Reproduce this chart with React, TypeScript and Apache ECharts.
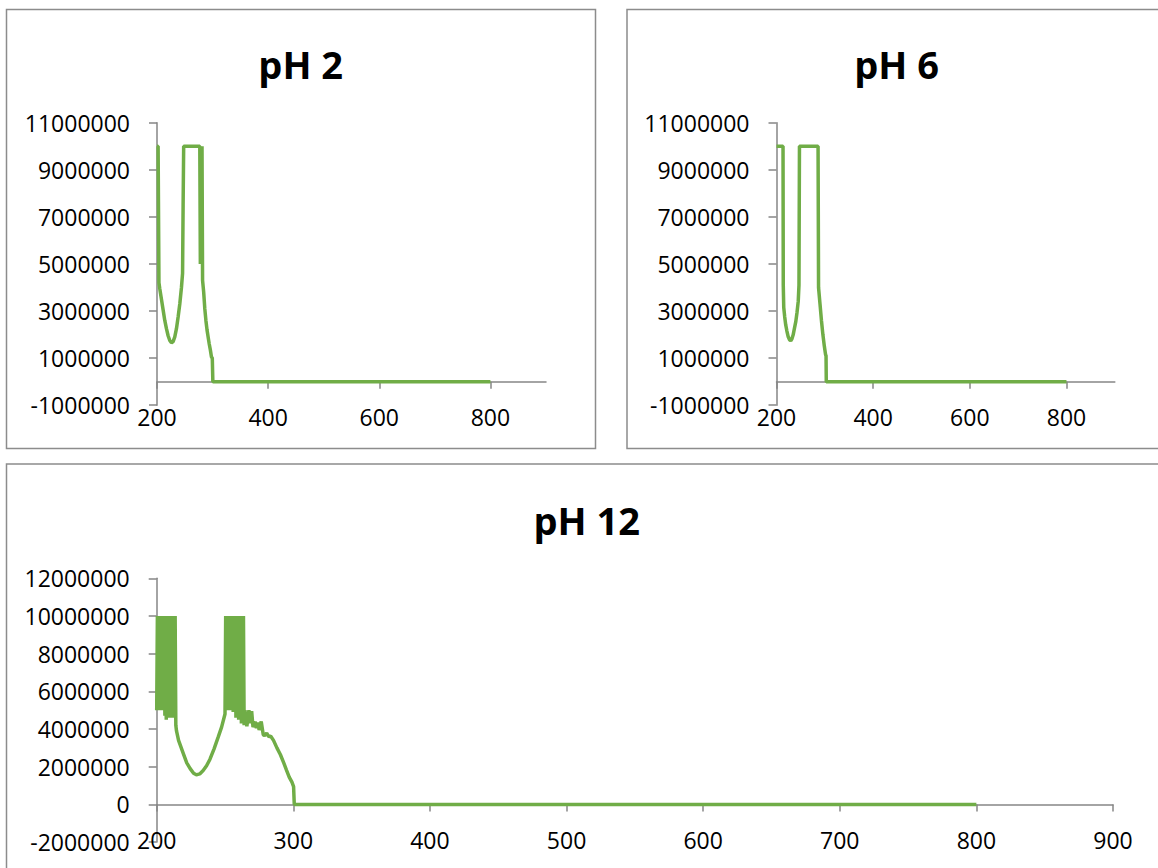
import React, { useEffect, useRef } from "react";
import * as echarts from "echarts";

// ---------- data (wavelength nm, intensity) ----------
const titles = ["pH 2", "pH 6", "pH 12"];

const ph2Points: [number, number][] = [
  [200, 10000000], [202, 10000000], [203.5, 4200000], [205, 3950000], [208, 3500000],
  [211, 3050000], [214, 2600000], [217, 2250000], [220, 1950000], [223, 1750000],
  [226, 1650000], [229, 1700000], [232, 1900000], [235, 2250000], [238, 2750000],
  [241, 3300000], [244, 4000000], [246, 4600000], [247, 7500000], [248, 10000000],
  [277, 10000000], [278, 5000000], [279, 10000000], [280, 5200000], [281, 10000000],
  [282, 4300000], [284, 3800000], [286, 3100000], [288, 2600000], [290, 2200000],
  [292, 1900000], [294, 1600000], [296, 1350000], [298, 1050000], [299.5, 1000000],
  [300.5, 0], [800, 0],
];

const ph6Points: [number, number][] = [
  [200, 10000000], [213.5, 10000000], [214, 4100000], [215, 3150000], [217, 2750000],
  [219, 2420000], [221.5, 2150000], [224, 1920000], [227, 1780000], [229.5, 1740000],
  [232, 1820000], [234.5, 1990000], [237, 2250000], [240, 2560000], [242.5, 2950000],
  [245, 3420000], [246.5, 4100000], [247.5, 10000000], [286, 10000000], [287, 4000000],
  [290, 3300000], [293, 2600000], [296, 2000000], [299, 1500000], [301.5, 1150000],
  [302.5, 1100000], [303, 0], [800, 0],
];

const ph12Points: [number, number][] = [
  [200, 5000000], [200.5, 10000000], [201, 5000000], [201.5, 10000000], [202, 5000000],
  [202.5, 10000000], [203, 5000000], [203.5, 10000000], [204, 5000000], [204.5, 10000000],
  [205, 5000000], [205.5, 10000000], [206, 4700000], [206.5, 10000000], [207, 4500000],
  [207.5, 10000000], [208, 4700000], [208.5, 10000000], [209, 4600000], [209.5, 10000000],
  [210, 4800000], [210.5, 10000000], [211, 4600000], [211.5, 10000000], [212, 4700000],
  [212.5, 10000000], [213, 4600000], [213.5, 10000000], [214, 4200000], [214.5, 3900000],
  [216, 3400000], [219.5, 2700000], [222, 2200000], [224.5, 1900000], [227, 1650000],
  [229, 1570000], [231.5, 1620000], [234, 1800000], [236.5, 2050000], [239, 2400000],
  [242, 2950000], [245, 3570000], [247.5, 4100000], [250, 4800000], [250.5, 10000000],
  [251, 5000000], [251.5, 10000000], [252, 5200000], [252.5, 10000000], [253, 5000000],
  [253.5, 10000000], [254, 5100000], [254.5, 10000000], [255, 5000000], [255.5, 10000000],
  [256, 4900000], [256.5, 10000000], [257, 5000000], [257.5, 10000000], [258, 4600000],
  [258.5, 10000000], [259, 4800000], [259.5, 9000000], [260, 4500000], [260.5, 10000000],
  [261, 4900000], [261.5, 10000000], [262, 4300000], [262.5, 10000000], [263, 4600000],
  [263.5, 10000000], [264, 4200000], [264.6, 5000000], [266, 4150000], [267.5, 5000000],
  [268.5, 4300000], [269.5, 4950000], [270.5, 4100000], [272, 4400000], [273, 4050000],
  [274, 4350000], [275, 3950000], [276.5, 4400000], [278, 3700000], [279, 3650000],
  [280.5, 3780000], [282, 3600000], [283.5, 3620000], [285.5, 3400000], [288, 3000000],
  [290.5, 2650000], [293, 2200000], [295, 1820000], [297, 1450000], [299, 1180000],
  [300.2, 950000], [300.7, 0], [800, 0],
];

const xTicksSmall = [200, 400, 600, 800];

// ---------- styles ----------
const GREEN = "#70ad47";
const AXIS = "#868686";
const FONT = "'Open Sans', 'Liberation Sans', sans-serif";

export default function App() {
  const ref = useRef<HTMLDivElement>(null);

  useEffect(() => {
    if (!ref.current) return;
    const chart = echarts.init(ref.current, undefined, { renderer: "svg" });

    const axisLine = { show: true, onZero: true, lineStyle: { color: AXIS, width: 1.5 } };
    const axisTick = { show: true, length: 7, lineStyle: { color: AXIS, width: 1.5 } };
    const labelStyle = { fontSize: 23, color: "#000", fontFamily: FONT };
    const fmt = (v: number) => String(v);

    const grids = [
      { left: 157, top: 122.7, width: 389, height: 282.5, outerBoundsMode: "none" },
      { left: 776.5, top: 122.7, width: 338.3, height: 282.5, outerBoundsMode: "none" },
      { left: 156.7, top: 578.3, width: 956.3, height: 263.8, outerBoundsMode: "none" },
    ];

    const xMargins = [0, 0, -14];

    const xAxes = [0, 1, 2].map((i) => ({
      type: "value",
      gridIndex: i,
      min: 200,
      max: 900,
      interval: i === 2 ? 100 : 200,
      axisLine,
      axisTick: i === 2 ? axisTick : { ...axisTick, customValues: xTicksSmall },
      axisLabel:
        i === 2
          ? { ...labelStyle, margin: xMargins[i], formatter: fmt }
          : { ...labelStyle, margin: xMargins[i], formatter: fmt, customValues: xTicksSmall },
      splitLine: { show: false },
    }));

    const yAxes = [0, 1, 2].map((i) => ({
      type: "value",
      gridIndex: i,
      min: i === 2 ? -2000000 : -1000000,
      max: i === 2 ? 12000000 : 11000000,
      interval: 2000000,
      axisLine: { show: true, onZero: false, lineStyle: { color: AXIS, width: 1.5 } },
      axisTick: { ...axisTick, length: 8 },
      axisLabel: { ...labelStyle, margin: 27, formatter: fmt },
      splitLine: { show: false },
    }));

    const datasets = [ph2Points, ph6Points, ph12Points];
    const series = datasets.map((d, i) => ({
      type: "line",
      xAxisIndex: i,
      yAxisIndex: i,
      data: d,
      showSymbol: false,
      symbol: "none",
      lineStyle: { color: GREEN, width: 3.5 },
      itemStyle: { color: GREEN },
    }));

    const titlePos = [
      [300.7, 64],
      [896.5, 64],
      [586.7, 519.5],
    ];

    const borders = [
      { x: 6.5, y: 9.5, width: 589, height: 439 },
      { x: 627, y: 9.5, width: 560, height: 439 },
      { x: 6.5, y: 464, width: 1180, height: 440 },
    ];

    chart.setOption({
      animation: false,
      backgroundColor: "#fff",
      grid: grids,
      xAxis: xAxes,
      yAxis: yAxes,
      series,
      graphic: [
        ...borders.map((b) => ({
          type: "rect",
          z: -10,
          shape: b,
          style: { fill: "none", stroke: "#8c8c8c", lineWidth: 1.5 },
          silent: true,
        })),
        ...titles.map((t, i) => ({
          type: "text",
          x: titlePos[i][0],
          y: titlePos[i][1],
          style: {
            text: t,
            fill: "#000",
            fontSize: 38,
            fontWeight: "bold",
            fontFamily: FONT,
            align: "center",
            verticalAlign: "middle",
          },
        })),
      ],
    });

    return () => chart.dispose();
  }, []);

  return (
    <div
      ref={ref}
      style={{ position: "absolute", left: 0, top: 0, width: 1158, height: 868 }}
    />
  );
}
